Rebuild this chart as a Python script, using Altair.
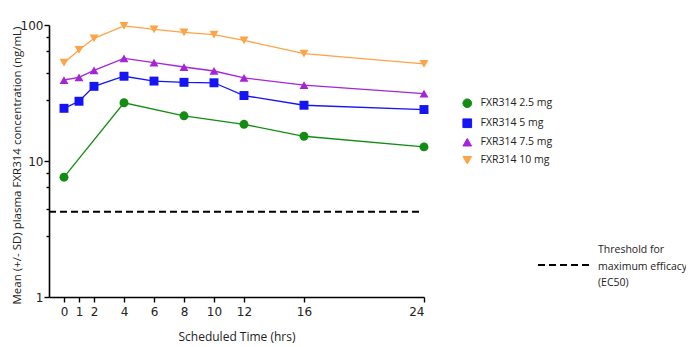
import altair as alt
import pandas as pd

# ---- data ----
series_names = ["FXR314 2.5 mg", "FXR314 5 mg", "FXR314 7.5 mg", "FXR314 10 mg"]
series_colors = ["#128c12", "#1414f5", "#a524d8", "#ffa347"]
series_shapes = ["circle", "square", "triangle-up", "triangle-down"]

times_25 = [0, 4, 8, 12, 16, 24]
conc_25 = [7.6, 26.8, 21.5, 18.6, 15.2, 12.7]

times_all = [0, 1, 2, 4, 6, 8, 10, 12, 16, 24]
conc_5 = [24.4, 27.5, 35.4, 42.0, 38.7, 37.9, 37.6, 30.3, 25.7, 23.9]
conc_75 = [39.4, 41.2, 46.4, 56.9, 52.8, 49.1, 45.9, 40.8, 36.1, 31.3]
conc_10 = [52.8, 65.5, 79.8, 98.4, 93.0, 88.4, 84.9, 77.1, 61.5, 51.7]

threshold_value = [4.24]
threshold_start = [-1]
threshold_end = [23.7]
threshold_key = ["EC50"]
threshold_text = ["Threshold for", "maximum efficacy", "(EC50)"]

x_ticks = [0, 1, 2, 4, 6, 8, 10, 12, 16, 24]
y_major = [1, 10, 100]
y_minor = [2.8, 4.4, 6.4, 8.2, 28, 44, 64, 82]

rows = []
for t, v in zip(times_25, conc_25):
    rows.append({"series": series_names[0], "time": t, "conc": v})
for name, vals in zip(series_names[1:], [conc_5, conc_75, conc_10]):
    for t, v in zip(times_all, vals):
        rows.append({"series": name, "time": t, "conc": v})
df = pd.DataFrame(rows)

thr = pd.DataFrame({"y": threshold_value, "x": threshold_start,
                    "x2": threshold_end, "label": threshold_key})

x_scale = alt.Scale(domain=[-1, 24], nice=False, zero=False)
y_scale = alt.Scale(type="log", domain=[1, 100], nice=False)

major_test = "datum.value == 1 || datum.value == 10 || datum.value == 100"

x_enc = alt.X("time:Q", scale=x_scale,
              axis=alt.Axis(values=x_ticks, title="Scheduled Time (hrs)",
                            grid=False, tickSize=5, labelPadding=4,
                            titlePadding=14))
y_enc = alt.Y("conc:Q", scale=y_scale,
              axis=alt.Axis(values=y_major + y_minor,
                            title="Mean (+/- SD) plasma FXR314 concentration (ng/mL)",
                            grid=False, titleFontSize=11.5,
                            labelExpr="(datum.value == 1 || datum.value == 10 || datum.value == 100) ? datum.label : ''",
                            tickSize={"condition": {"test": major_test, "value": 5}, "value": 3},
                            labelPadding=1, titlePadding=-2, titleY=140))

color_scale = alt.Scale(domain=series_names, range=series_colors)
shape_scale = alt.Scale(domain=series_names, range=series_shapes)

legend_pts = alt.Legend(title=None, orient="none", legendX=413, legendY=73,
                        labelFont="Open Sans", labelFontSize=10.5,
                        labelColor="#222222", symbolSize=75, rowPadding=6,
                        labelOffset=8, padding=0, symbolStrokeWidth=1)

lines = alt.Chart(df).mark_line(strokeWidth=1.3).encode(
    x=x_enc, y=y_enc,
    color=alt.Color("series:N", scale=color_scale, legend=legend_pts),
    detail="series:N",
)

points = alt.Chart(df).mark_point(filled=True, size=80, opacity=1).encode(
    x="time:Q", y="conc:Q",
    color=alt.Color("series:N", scale=color_scale, legend=legend_pts),
    shape=alt.Shape("series:N", scale=shape_scale, legend=legend_pts),
)

thr_rule = alt.Chart(thr).mark_rule(color="black", strokeWidth=2).encode(
    x=alt.X("x:Q", scale=x_scale),
    x2="x2:Q",
    y=alt.Y("y:Q", scale=y_scale),
    strokeDash=alt.StrokeDash(
        "label:N",
        scale=alt.Scale(domain=threshold_key, range=[[7, 4]]),
        legend=alt.Legend(title=None, orient="none", legendX=488, legendY=213,
                          symbolType="stroke", symbolSize=2700,
                          symbolStrokeWidth=2, symbolStrokeColor="black",
                          labelExpr="''", padding=0, labelOffset=0),
    ),
)

thr_text = alt.Chart(thr).mark_text(
    align="left", baseline="middle", font="Open Sans", fontSize=10.5,
    lineHeight=16.5, color="#222222",
).encode(
    x=alt.value(549), y=alt.value(225), text=alt.value(threshold_text),
)

chart = alt.layer(thr_rule, lines, points, thr_text).properties(
    width=375, height=272,
    autosize=alt.AutoSizeParams(type="none"),
    padding={"left": 41, "top": 17, "right": 262, "bottom": 49},
).configure_view(stroke=None).configure_axis(
    domainColor="black", domainWidth=1.6, tickColor="black", tickWidth=1.4,
    labelFont="DejaVu Sans", labelFontSize=12, labelColor="#222222",
    titleFont="Open Sans", titleFontSize=12, titleFontWeight="normal",
    titleColor="#222222",
)

chart.save("out.html", embed_options={"renderer": "svg", "actions": False})
